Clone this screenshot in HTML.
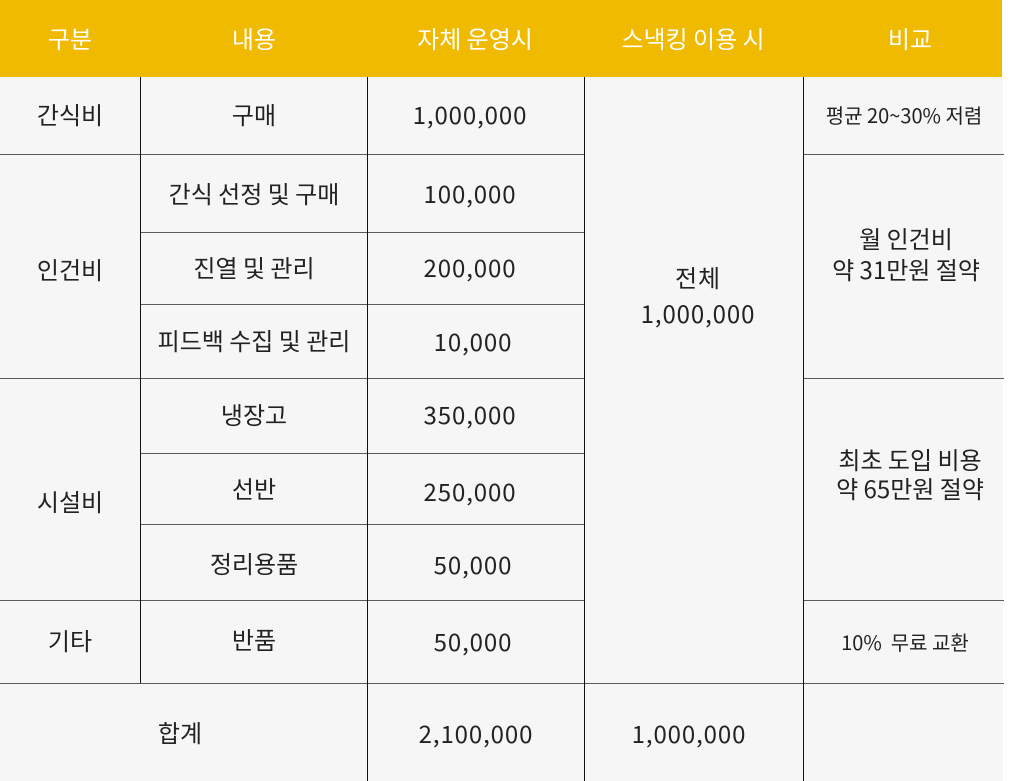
<!DOCTYPE html>
<html><head><meta charset="utf-8"><style>
*{margin:0;padding:0;box-sizing:border-box}
body{width:1014px;height:781px;background:#fff;position:relative;overflow:hidden;font-family:"Noto Sans CJK KR","Liberation Sans",sans-serif;color:#222}
.bg{position:absolute;left:0;top:77px;width:1003px;height:704px;background:#f6f6f6}
.hdr{position:absolute;left:0;top:0;width:1002px;height:77px;background:#f0ba00}
.h{position:absolute;height:1px;background:#5a5a5a}
.v{position:absolute;width:1px;background:#111}
.t{position:absolute;transform:translate(-50%,-50%);white-space:nowrap;font-size:24px;text-align:center;line-height:34px}
.n{font-size:24px;letter-spacing:0.9px}
.w{color:#fff}
.s{font-size:20px}
</style></head><body>
<div class="bg"></div>
<div class="hdr"></div>
<div class="t w" style="left:70px;top:38px">구분</div>
<div class="t w" style="left:254px;top:38px">내용</div>
<div class="t w" style="left:475px;top:38px">자체 운영시</div>
<div class="t w" style="left:693px;top:38px">스낵킹 이용 시</div>
<div class="t w" style="left:910px;top:38px">비교</div>

<div class="h" style="left:0;top:154px;width:584px"></div>
<div class="h" style="left:803px;top:154px;width:201px"></div>
<div class="h" style="left:140px;top:232px;width:444px"></div>
<div class="h" style="left:140px;top:304px;width:444px"></div>
<div class="h" style="left:0;top:378px;width:584px"></div>
<div class="h" style="left:803px;top:378px;width:201px"></div>
<div class="h" style="left:140px;top:453px;width:444px"></div>
<div class="h" style="left:140px;top:524px;width:444px"></div>
<div class="h" style="left:0;top:600px;width:584px"></div>
<div class="h" style="left:803px;top:600px;width:201px"></div>
<div class="h" style="left:0;top:683px;width:1004px"></div>
<div class="v" style="left:140px;top:77px;height:606px"></div>
<div class="v" style="left:367px;top:77px;height:704px"></div>
<div class="v" style="left:584px;top:77px;height:704px"></div>
<div class="v" style="left:803px;top:77px;height:704px"></div>

<div class="t" style="left:70px;top:114px">간식비</div>
<div class="t" style="left:70px;top:269px">인건비</div>
<div class="t" style="left:70px;top:501px">시설비</div>
<div class="t" style="left:70px;top:640px">기타</div>
<div class="t" style="left:180px;top:732px">합계</div>

<div class="t" style="left:254px;top:114px">구매</div>
<div class="t" style="left:254px;top:193px">간식 선정 및 구매</div>
<div class="t" style="left:254px;top:267px">진열 및 관리</div>
<div class="t" style="left:254px;top:340px">피드백 수집 및 관리</div>
<div class="t" style="left:254px;top:414px">냉장고</div>
<div class="t" style="left:254px;top:488px">선반</div>
<div class="t" style="left:254px;top:563px">정리용품</div>
<div class="t" style="left:254px;top:639px">반품</div>

<div class="t n" style="left:470px;top:114px">1,000,000</div>
<div class="t n" style="left:470px;top:193px">100,000</div>
<div class="t n" style="left:470px;top:267px">200,000</div>
<div class="t n" style="left:473px;top:341px">10,000</div>
<div class="t n" style="left:470px;top:414px">350,000</div>
<div class="t n" style="left:470px;top:491px">250,000</div>
<div class="t n" style="left:473px;top:564px">50,000</div>
<div class="t n" style="left:473px;top:641px">50,000</div>
<div class="t n" style="left:476px;top:733px">2,100,000</div>

<div class="t n" style="left:698px;top:295px;line-height:36px">전체<br>1,000,000</div>
<div class="t n" style="left:689px;top:733px">1,000,000</div>

<div class="t s" style="left:904px;top:115px">평균 20~30% 저렴</div>
<div class="t" style="left:906px;top:253px;line-height:31px">월 인건비<br>약 31만원 절약</div>
<div class="t" style="left:910px;top:473px;line-height:29px">최초 도입 비용<br>약 65만원 절약</div>
<div class="t s" style="left:905px;top:642px">10%&nbsp; 무료 교환</div>
</body></html>
